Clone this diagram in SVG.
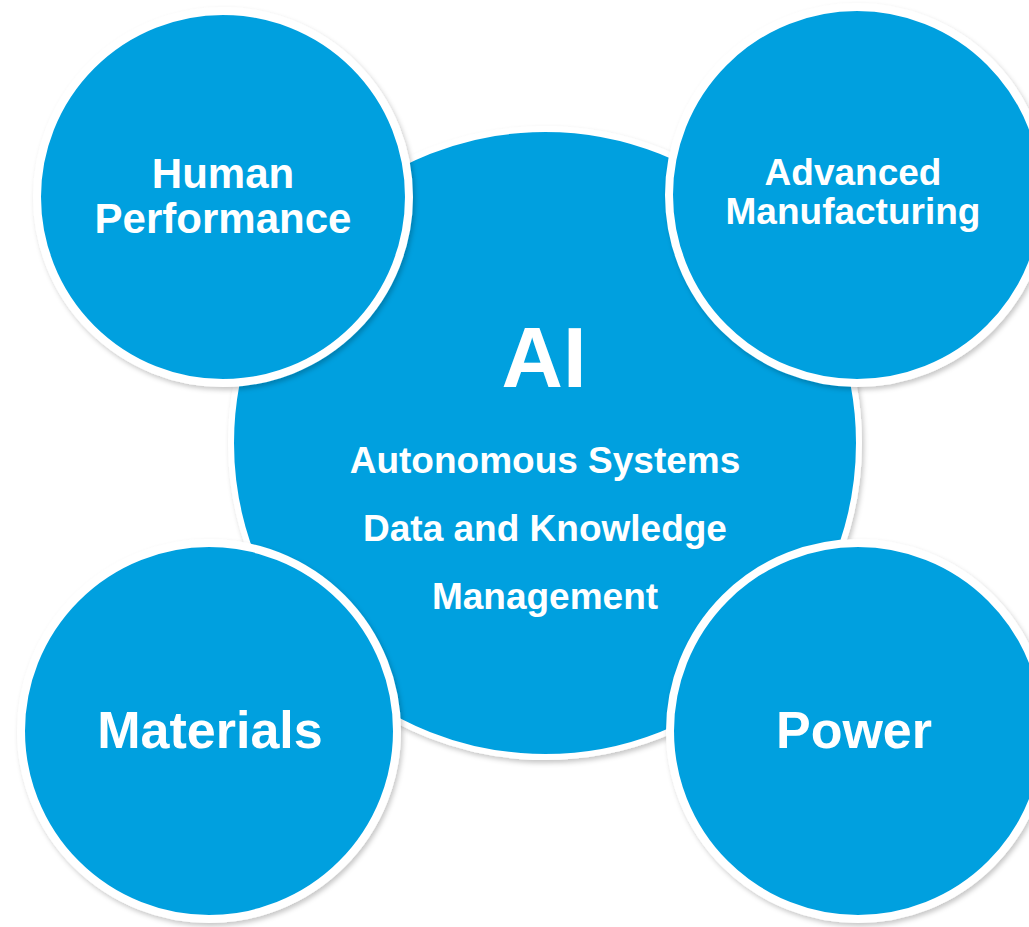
<svg xmlns="http://www.w3.org/2000/svg" width="1029" height="927" viewBox="0 0 1029 927">
<style>
.c{fill:#03A0DF;stroke:#FFFFFF;stroke-width:8;filter:url(#sh)}
.t{font-family:"Liberation Sans",Arial,sans-serif;font-weight:bold;fill:#FFFFFF;text-anchor:middle}
</style>
<defs>
<filter id="sh" x="-10%" y="-10%" width="120%" height="120%">
<feDropShadow dx="2" dy="3" stdDeviation="2.5" flood-color="#000000" flood-opacity="0.22"/>
</filter>
</defs>
<rect width="1029" height="927" fill="#FFFFFF"/>
<g id="connectors"/>
<g id="node-ai">
<circle class="c" cx="545" cy="443" r="314" style="stroke-width:6"/>
<text class="t" x="544" y="387" font-size="85">AI</text>
<text class="t" x="545" y="473" font-size="37">Autonomous Systems</text>
<text class="t" x="545" y="541" font-size="37">Data and Knowledge</text>
<text class="t" x="545" y="609" font-size="37">Management</text>
</g>
<g id="node-human-performance">
<circle class="c" cx="223" cy="197" r="186"/>
<text class="t" x="223" y="188" font-size="42">Human</text>
<text class="t" x="223" y="233" font-size="42">Performance</text>
</g>
<g id="node-advanced-manufacturing">
<circle class="c" cx="857" cy="195" r="188"/>
<text class="t" x="853" y="185" font-size="37">Advanced</text>
<text class="t" x="853" y="224" font-size="37">Manufacturing</text>
</g>
<g id="node-materials">
<circle class="c" cx="209" cy="731" r="188"/>
<text class="t" x="210" y="748" font-size="52">Materials</text>
</g>
<g id="node-power">
<circle class="c" cx="858" cy="731" r="188"/>
<text class="t" x="854" y="748" font-size="52">Power</text>
</g>
</svg>
